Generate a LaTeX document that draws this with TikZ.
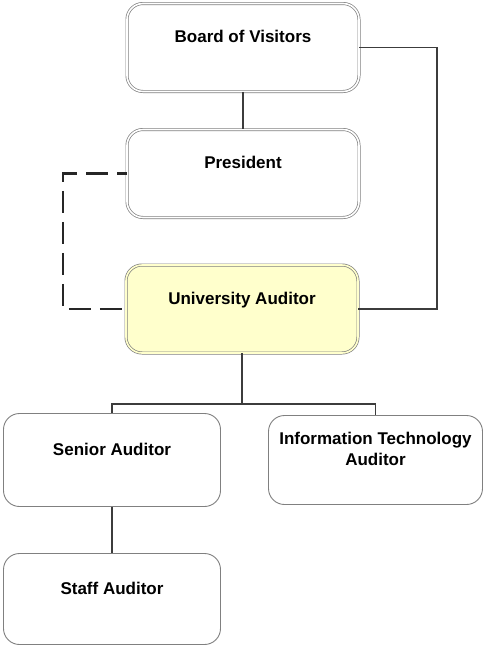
\documentclass[tikz,border=0pt]{standalone}
\usepackage{fontspec}
\setmainfont{Liberation Sans}
\usepackage{tikz}

\definecolor{boxgray}{RGB}{128,128,128}
\definecolor{linegray}{RGB}{60,60,60}
\definecolor{uafill}{RGB}{255,255,204}

\begin{document}
\begin{tikzpicture}[x=1pt, y=-1pt,
    font=\fontsize{17}{21}\selectfont\bfseries,
    office/.style={shape=rectangle, rounded corners=16pt, align=center,
        text height=12pt, text depth=22pt},
    topbox/.style={office, draw=boxgray, double=white, double distance=1.6pt,
        line width=0.7pt, minimum width=232pt, minimum height=88pt},
    lowbox/.style={office, draw=boxgray, line width=0.9pt, fill=white},
    link/.style={draw=linegray, line width=1.5pt},
    dotted link/.style={draw=black!85, line width=2.8pt, dash pattern=on 22pt off 9pt, dash phase=12pt}]
    
    \useasboundingbox (0,0) rectangle (484,646);
    
    \node[topbox] (bov) at (243,47.5)  {Board of Visitors};
    \node[topbox] (pres) at (243,173.5) {President};
    \node[topbox, fill=uafill, double=uafill] (ua) at (242,309) {University Auditor};
    
    \node[lowbox, minimum width=217pt, minimum height=93pt] (senior) at (112,460) {Senior Auditor};
    \node[lowbox, minimum width=214pt, minimum height=89pt, text height=33pt, text depth=23pt] (it) at (375.5,460)
        {Information Technology\\Auditor};
    \node[lowbox, minimum width=217pt, minimum height=91pt] (staff) at (112,599) {Staff Auditor};
    
    \coordinate (rail) at (437,0);
    \coordinate (drail) at (63,0);
    \coordinate (bus) at (0,404);
    
    \path[link] (bov) edge (pres);
    \draw[link] (bov.east) -| (rail |- ua.east) -- (ua.east);
    \draw[dotted link] (pres.west) -| (drail |- ua.west) -- (ua.west);
    \draw[link] (ua.south) -- (ua.south |- bus);
    \draw[link] (senior.north) |- (it.north |- bus) -- (it.north);
    \path[link] (senior) edge (staff);
    
\end{tikzpicture}
\end{document}
